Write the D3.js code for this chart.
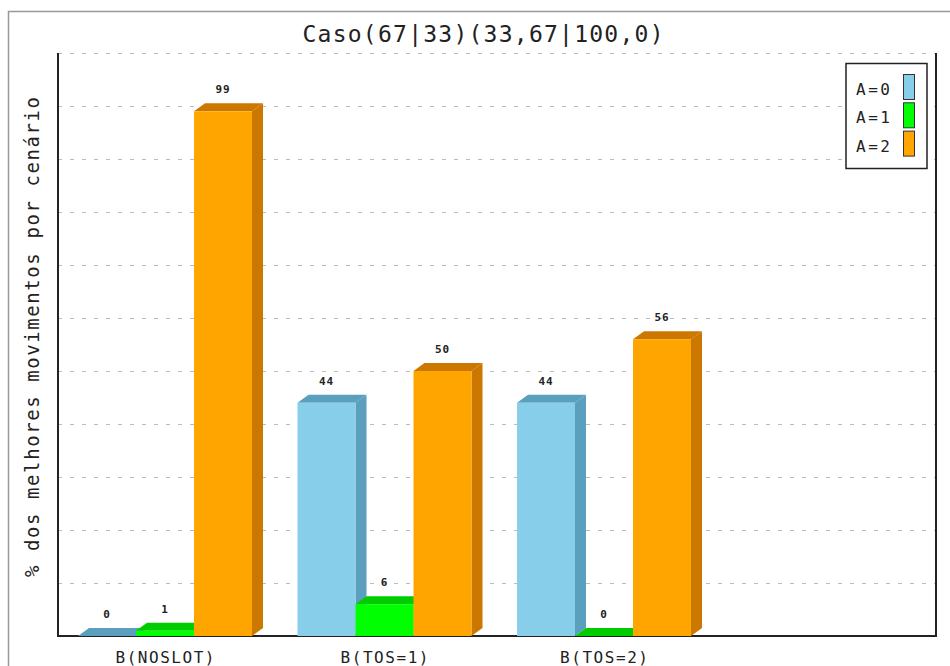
<!DOCTYPE html>
<html>
<head>
<meta charset="utf-8">
<script src="https://cdn.jsdelivr.net/npm/d3@7"></script>
<style>
  html, body { margin: 0; padding: 0; background: #fff; }
  svg { display: block; }
  text { font-family: "DejaVu Sans Mono", "Liberation Mono", monospace; fill: #222; }
</style>
</head>
<body>
<svg id="chart" width="950" height="666"></svg>
<script>
// Chart data
const title = "Caso(67|33)(33,67|100,0)";
const yLabel = "% dos melhores movimentos por cenário";
const categories = ["B(NOSLOT)", "B(TOS=1)", "B(TOS=2)"];
const seriesNames = ["A=0", "A=1", "A=2"];
const valuesA0 = [0, 44, 44];
const valuesA1 = [1, 6, 0];
const valuesA2 = [99, 50, 56];
const yTicks = [10, 20, 30, 40, 50, 60, 70, 80, 90, 100, 110];

const seriesValues = [valuesA0, valuesA1, valuesA2];
const frontColors = ["#87CEEB", "#00FF00", "#FFA500"];
const shadeColors = ["#5A9FBE", "#00CC00", "#CC7700"];

const W = 950, H = 666;
const plot = { left: 58, right: 936, top: 53, bottom: 636 };
const depth = { dx: 11, dy: 8 };

const svg = d3.select("#chart");

// outer frame
svg.append("rect")
  .attr("x", 8.5).attr("y", 11.5)
  .attr("width", W + 20).attr("height", H + 20)
  .attr("fill", "none").attr("stroke", "#999").attr("stroke-width", 1.5);

// scales: the category axis reserves four slots, three are used
const slot = (plot.right - plot.left) / 4;
const x0 = d3.scaleBand()
  .domain(categories)
  .range([plot.left, plot.left + slot * categories.length]);
const x1 = d3.scaleBand()
  .domain(seriesNames)
  .range([20, 20 + 174]);
const y = d3.scaleLinear().domain([0, 110]).range([plot.bottom, plot.top]);

// grid lines
svg.append("g").selectAll("line")
  .data(yTicks)
  .join("line")
  .attr("x1", plot.left).attr("x2", plot.right)
  .attr("y1", d => Math.round(y(d)) + 0.5)
  .attr("y2", d => Math.round(y(d)) + 0.5)
  .attr("stroke", "#bbb")
  .attr("stroke-dasharray", "4,8");

// axes frame (left, bottom, right)
const axisG = svg.append("g").attr("stroke", "#222").attr("stroke-width", 2).attr("fill", "none");
axisG.append("path")
  .attr("d", `M${plot.left},${plot.top}V${plot.bottom}H${plot.right}V${plot.top}`);

// bars with a 3D front/top/side look
const barData = [];
categories.forEach((c, ci) => {
  seriesNames.forEach((s, si) => {
    barData.push({ cat: c, series: s, si, value: seriesValues[si][ci] });
  });
});

const bars = svg.append("g").selectAll("g")
  .data(barData)
  .join("g");

bars.each(function (d) {
  const g = d3.select(this);
  const x = x0(d.cat) + x1(d.series);
  const w = x1.bandwidth();
  const top = y(d.value);
  const base = y(0);
  const { dx, dy } = depth;
  // side face
  g.append("path")
    .attr("d", `M${x + w},${top}L${x + w + dx},${top - dy}L${x + w + dx},${base - dy}L${x + w},${base}Z`)
    .attr("fill", shadeColors[d.si]);
  // top face
  g.append("path")
    .attr("d", `M${x},${top}L${x + dx},${top - dy}L${x + w + dx},${top - dy}L${x + w},${top}Z`)
    .attr("fill", shadeColors[d.si]);
  // front face
  g.append("rect")
    .attr("x", x).attr("y", top)
    .attr("width", w).attr("height", base - top)
    .attr("fill", frontColors[d.si]);
  // value label
  g.append("text")
    .attr("x", x + w / 2)
    .attr("y", top - dy - 10)
    .attr("text-anchor", "middle")
    .attr("font-size", 11)
    .attr("font-weight", "bold")
    .attr("letter-spacing", 1)
    .text(d.value);
});

// category labels
svg.append("g").selectAll("text")
  .data(categories)
  .join("text")
  .attr("x", d => x0(d) + x1.range()[0] + (x1.range()[1] - x1.range()[0]) / 2)
  .attr("y", 663)
  .attr("text-anchor", "middle")
  .attr("font-size", 16)
  .attr("textLength", d => d.length * 11)
  .attr("lengthAdjust", "spacing")
  .text(d => d);

// title
svg.append("text")
  .attr("x", 483).attr("y", 42)
  .attr("text-anchor", "middle")
  .attr("font-size", 23)
  .attr("textLength", 361)
  .attr("lengthAdjust", "spacing")
  .text(title);

// y axis label
svg.append("text")
  .attr("transform", "translate(39,337) rotate(-90)")
  .attr("text-anchor", "middle")
  .attr("font-size", 19)
  .attr("textLength", 480)
  .attr("lengthAdjust", "spacing")
  .text(yLabel);

// legend
const legend = svg.append("g");
legend.append("rect")
  .attr("x", 846).attr("y", 63.5)
  .attr("width", 81).attr("height", 105)
  .attr("fill", "#fff").attr("stroke", "#222").attr("stroke-width", 1.5);
const items = legend.selectAll("g.item")
  .data(seriesNames)
  .join("g").attr("class", "item")
  .attr("transform", (d, i) => `translate(0, ${i * 28.3})`);
items.append("rect")
  .attr("x", 903.5).attr("y", 74.5)
  .attr("width", 11).attr("height", 25)
  .attr("fill", (d, i) => frontColors[i])
  .attr("stroke", "#333").attr("stroke-width", 1);
items.append("text")
  .attr("x", 856).attr("y", 95)
  .attr("font-size", 16)
  .attr("textLength", 34)
  .attr("lengthAdjust", "spacing")
  .text(d => d);
</script>
</body>
</html>
